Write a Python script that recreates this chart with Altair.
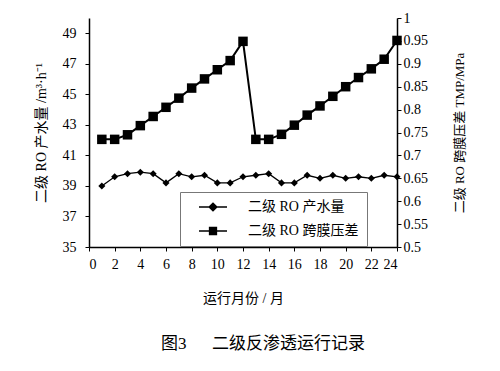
import altair as alt
import pandas as pd

months = list(range(1, 25))
production = [39.0, 39.6, 39.8, 39.9, 39.8, 39.2, 39.8, 39.6, 39.7, 39.2, 39.2, 39.6,
              39.7, 39.8, 39.2, 39.2, 39.7, 39.5, 39.7, 39.5, 39.6, 39.5, 39.7, 39.6]
tmp = [0.735, 0.735, 0.745, 0.765, 0.785, 0.805, 0.825, 0.847, 0.867, 0.887, 0.907, 0.949,
       0.735, 0.735, 0.746, 0.766, 0.788, 0.808, 0.829, 0.850, 0.870, 0.889, 0.910, 0.951]
series_names = ["二级 RO 产水量", "二级 RO 跨膜压差"]
left_ticks = [35, 37, 39, 41, 43, 45, 47, 49]
right_ticks = [0.5, 0.55, 0.6, 0.65, 0.7, 0.75, 0.8, 0.85, 0.9, 0.95, 1.0]
x_ticks = list(range(0, 25, 2))

df = pd.DataFrame({"month": months, "production": production, "tmp": tmp})
legend_df = pd.DataFrame({"series": series_names})

FONT = "Liberation Serif, Noto Sans CJK SC"

DIAMOND_SYM = ("M-3.5,0H3.5M0,-0.95L0.95,0L0,0.95L-0.95,0Z"
               "M-0.3,-0.65H0.3M-0.6,-0.35H0.6M-0.6,0.35H0.6M-0.3,0.65H0.3")
SQUARE_SYM = ("M-3.5,0H3.5M-0.85,-0.85H0.85V0.85H-0.85Z"
              "M-0.85,-0.5H0.85M-0.85,-0.15H0.85M-0.85,0.2H0.85M-0.85,0.55H0.85")

x_axis = alt.Axis(values=x_ticks, title="运行月份 / 月", titlePadding=20,
                  titleFontSize=14, labelPadding=6, tickSize=4, labelOverlap=False)
x_enc = alt.X("month:Q", scale=alt.Scale(domain=[0, 24], nice=False), axis=x_axis)

left_axis = alt.Axis(values=left_ticks, title="二级 RO 产水量 /m³·h⁻¹", titleFontSize=14,
                     orient="left", tickSize=4, labelPadding=9, titlePadding=14,
                     labelOverlap=False)
left_scale = alt.Scale(domain=[35, 50], nice=False, zero=False)
right_axis = alt.Axis(values=right_ticks, format="~g", title="二级 RO 跨膜压差 TMP/MPa",
                      orient="right", tickSize=4, labelPadding=2, titlePadding=39,
                      titleFontSize=13, titleAngle=270, labelOverlap=False)
right_scale = alt.Scale(domain=[0.5, 1.0], nice=False, zero=False)

base = alt.Chart(df)

prod_line = base.mark_line(color="black", strokeWidth=1.3).encode(
    x=x_enc, y=alt.Y("production:Q", scale=left_scale, axis=left_axis))
prod_pts = base.mark_point(shape="diamond", filled=True, color="black", size=50, opacity=1).encode(
    x=x_enc, y=alt.Y("production:Q", scale=left_scale, axis=left_axis))

dummy = alt.Chart(legend_df).mark_point(filled=False, opacity=0, color="black").encode(
    shape=alt.Shape("series:N",
                    scale=alt.Scale(domain=series_names, range=[DIAMOND_SYM, SQUARE_SYM]),
                    legend=alt.Legend(title=None, orient="none", legendX=91, legendY=174,
                                      strokeColor="#777", fillColor="white", padding=8,
                                      symbolSize=64, symbolOpacity=1, symbolOffset=18,
                                      symbolFillColor="black", symbolStrokeColor="black",
                                      symbolStrokeWidth=1.5, labelOffset=28, rowPadding=10,
                                      labelFontSize=14, labelFont=FONT, labelColor="black")))

tmp_line = base.mark_line(color="black", strokeWidth=2).encode(
    x=x_enc, y=alt.Y("tmp:Q", scale=right_scale, axis=right_axis))
tmp_pts = base.mark_point(shape="square", filled=True, color="black", size=90, opacity=1).encode(
    x=x_enc, y=alt.Y("tmp:Q", scale=right_scale, axis=right_axis))

chart = alt.layer(
    alt.layer(prod_line, prod_pts, dummy),
    alt.layer(tmp_line, tmp_pts),
).resolve_scale(y="independent", shape="independent").properties(
    width=308, height=229,
    title=alt.TitleParams(text="图3\u2002\u3000二级反渗透运行记录", orient="bottom", offset=31,
                          fontSize=17, font=FONT, fontWeight="normal", color="black", dx=20),
    autosize=alt.AutoSizeParams(type="none"),
    padding={"left": 81, "top": 10, "right": 95, "bottom": 116},
).configure_view(stroke=None).configure_axis(
    domainColor="black", tickColor="black", labelColor="black", titleColor="black",
    labelFont=FONT, titleFont=FONT, labelFontSize=14, titleFontSize=13,
    titleFontWeight="normal", grid=False, domainWidth=1.5, labelOverlap=False
)

chart.save("out.html", embed_options={"renderer": "svg", "actions": False})
